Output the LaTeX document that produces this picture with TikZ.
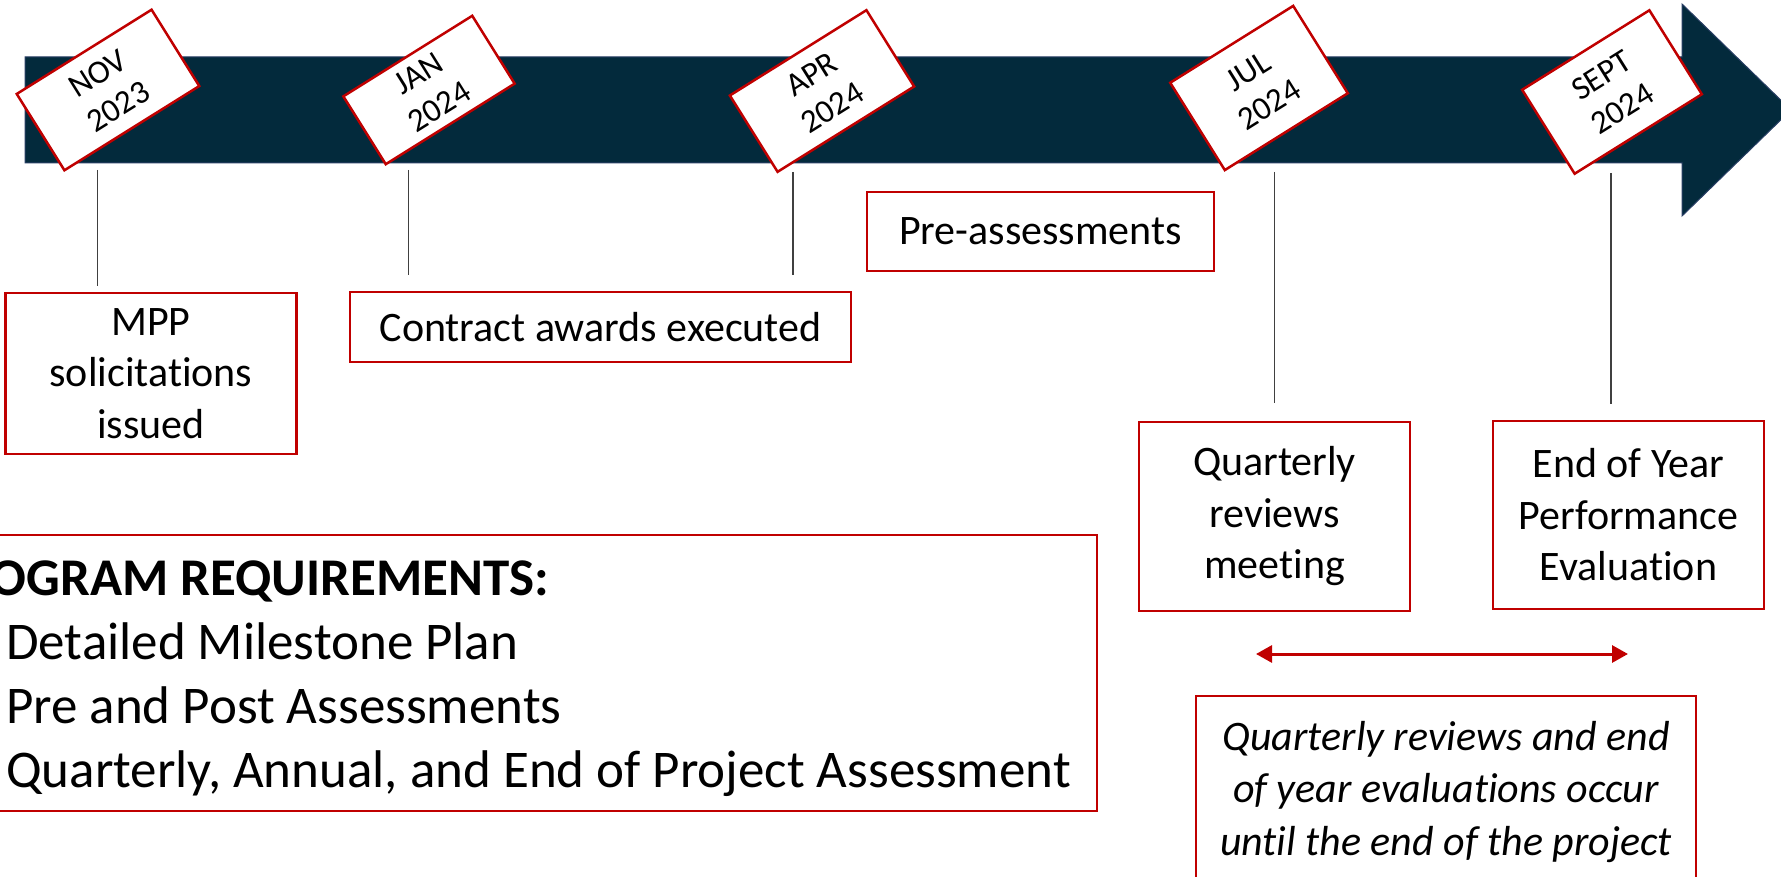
\documentclass[tikz,border=0pt]{standalone}
\usepackage{fontspec}
\setmainfont{Carlito}[Ligatures={NoCommon,NoContextual}]
\usetikzlibrary{arrows.meta}
\definecolor{navy}{RGB}{3,42,60}
\definecolor{navyedge}{RGB}{40,62,100}
\definecolor{tlred}{RGB}{192,0,0}
\definecolor{tickgray}{RGB}{64,64,64}
\begin{document}
\begin{tikzpicture}[x=1pt,y=1pt,
  datebox/.style={draw=tlred, line width=2.5pt, fill=white, rotate=32, inner sep=0pt, align=center, font=\fontsize{33}{39}\selectfont},
  eventbox/.style={draw=tlred, line width=2.5pt, fill=white, inner sep=0pt, align=center, font=\fontsize{42}{51.5}\selectfont},
  tickline/.style={draw=tickgray, line width=1.5pt},
  reqtext/.style={inner sep=0pt, font=\fontsize{53}{64}\selectfont},
  span/.style={draw=tlred, line width=3pt, {Triangle[length=16pt,width=17pt]}-{Triangle[length=16pt,width=17pt]}}
]
\useasboundingbox (0,0) rectangle (1781,-877);
\clip (0,0) rectangle (1781,-877);

% timeline arrow
\fill[navy, draw=navyedge, line width=1pt] (25,-57) -- (1682,-57) -- (1682,-4) -- (1791,-110) -- (1682,-216) -- (1682,-163) -- (25,-163) -- cycle;

% date labels
\node[datebox, minimum width=159pt, minimum height=90pt] (nov) at (108,-90) {NOV\\2023};
\node[datebox, minimum width=152pt, minimum height=80pt] (jan) at (429,-90) {JAN\\2024};
\node[datebox, minimum width=161pt, minimum height=90pt] (apr) at (822,-91) {APR\\2024};
\node[datebox, minimum width=145pt, minimum height=103pt] (jul) at (1259,-88) {JUL\\2024};
\node[datebox, minimum width=150pt, minimum height=99pt] (sept) at (1612,-92) {SEPT\\2024};

% tick lines
\coordinate (t1a) at (97.6,-170);  \coordinate (t1b) at (97.6,-286);
\coordinate (t2a) at (408.5,-170); \coordinate (t2b) at (408.5,-275);
\coordinate (t3a) at (793,-172);   \coordinate (t3b) at (793,-275);
\coordinate (t4a) at (1274.5,-172);\coordinate (t4b) at (1274.5,-403);
\coordinate (t5a) at (1611,-173);  \coordinate (t5b) at (1611,-404);
\draw[tickline] (t1a) -- (t1b);
\draw[tickline] (t2a) -- (t2b);
\draw[tickline] (t3a) -- (t3b);
\draw[tickline] (t4a) -- (t4b);
\draw[tickline] (t5a) -- (t5b);

% event boxes
\node[eventbox, minimum width=291pt, minimum height=161pt] (mpp) at (151,-373.6) {MPP\\solicitations\\issued};
\node[eventbox, minimum width=501pt, minimum height=70pt] (contract) at (600.5,-327) {Contract awards executed};
\node[eventbox, minimum width=347pt, minimum height=79pt] (pre) at (1040.5,-231.5) {Pre-assessments};
\node[eventbox, minimum width=271pt, minimum height=189pt] (qrm) at (1274.5,-516.5) {Quarterly\\reviews\\meeting};
\node[eventbox, minimum width=271pt, minimum height=188pt] (eoy) at (1628.5,-515) {End of Year\\Performance\\Evaluation};

% span arrow
\coordinate (sa) at (1256,-654);
\coordinate (sb) at (1628,-654);
\draw[span] (sa) -- (sb);

% italic note
\node[eventbox, minimum width=500pt, minimum height=192pt, font=\fontsize{42}{52.5}\selectfont\itshape] (note) at (1446,-792) {Quarterly reviews and end\\of year evaluations occur\\until the end of the project};

% requirements box
\node[draw=tlred, line width=2.5pt, inner sep=0pt, minimum width=1197pt, minimum height=276pt] (req) at (498.5,-673) {};
\node[reqtext, anchor=base east, font=\fontsize{53}{64}\selectfont\bfseries] (reqhead) at (549,-595) {PROGRAM REQUIREMENTS:};
\node[reqtext, anchor=base west] (req1) at (6,-659) {Detailed Milestone Plan};
\node[reqtext, anchor=base west] (req2) at (6,-723) {Pre and Post Assessments};
\node[reqtext, anchor=base west] (req3) at (6,-787) {Quarterly, Annual, and End of Project Assessment};
\end{tikzpicture}
\end{document}
